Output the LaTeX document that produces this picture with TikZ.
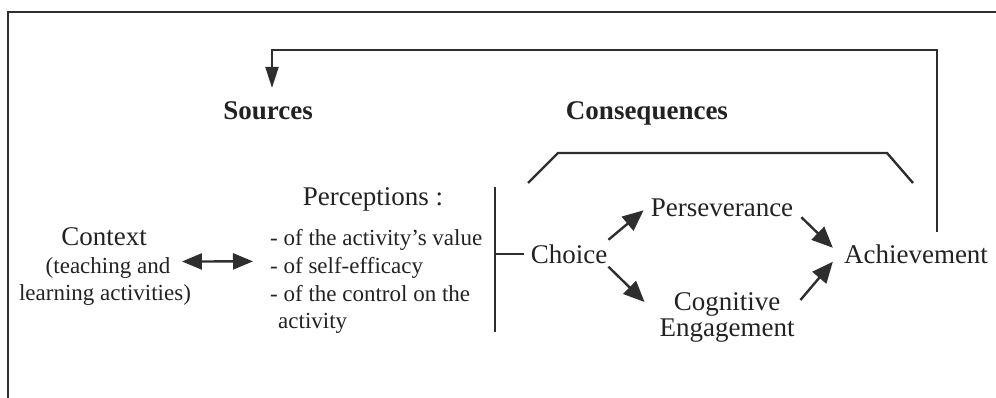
\documentclass[tikz,border=0pt]{standalone}
\usepackage{fontspec}
\setmainfont{Liberation Serif}
\usetikzlibrary{arrows.meta,calc}
\definecolor{ink}{HTML}{222222}
\definecolor{linec}{HTML}{2E2E2E}
\tikzset{
  txt/.style={inner sep=0pt, anchor=base, text=ink, font=\fontsize{27}{32}\selectfont},
  head/.style={txt, font=\fontsize{27}{32}\selectfont\bfseries},
  small/.style={inner sep=0pt, text=ink, font=\fontsize{23}{27}\selectfont},
  smallc/.style={small, anchor=base},
  smalll/.style={small, anchor=base west},
  ln/.style={draw=linec, line width=2.4pt},
  arr/.style={ln, -{Triangle[length=21pt,width=18pt]}},
  dbl/.style={ln, {Triangle[length=20pt,width=16pt]}-{Triangle[length=20pt,width=16pt]}},
  fbarr/.style={draw=linec, line width=2.2pt, -{Triangle[length=21pt,width=13pt]}}
}
\begin{document}
\begin{tikzpicture}[x=1pt,y=1pt]
\useasboundingbox (0,0) rectangle (996,-398);
% frame
\draw[draw=linec, line width=2.2pt] (8,-402) -- (8,-12) -- (1002,-12);
% headings
\node[head] (src) at (268,-120) {Sources};
\node[head] (cons) at (647,-120) {Consequences};
% context
\node[txt] (ctx) at (104,-245) {Context};
\node[smallc] (ctx1) at (108,-273) {(teaching and};
\node[smallc] (ctx2) at (105,-300) {learning activities)};
% perceptions
\node[txt] (perc) at (373,-206) {Perceptions :};
\node[smalll] (p1) at (270,-246) {- of the activity's value};
\node[smalll] (p2) at (270,-273) {- of self-efficacy};
\node[smalll] (p3) at (270,-301) {- of the control on the};
\node[smalll] (p4) at (278,-328) {activity};
% consequences
\node[txt] (choice) at (569,-263) {Choice};
\node[txt] (pers) at (722,-217) {Perseverance};
\node[txt] (cog1) at (727,-310) {Cognitive};
\node[txt] (cog2) at (727,-336) {Engagement};
\node[txt] (ach) at (916,-263) {Achievement};
% bar and bracket
\coordinate (bartop) at (495,-187);
\coordinate (barbot) at (495,-332);
\draw[ln] (bartop) -- (barbot);
\draw[ln] ([xshift=-7pt]choice.west) -- (choice.west -| bartop);
\coordinate (br1) at (528,-183);
\coordinate (br2) at (558,-153);
\coordinate (br3) at (887,-153);
\coordinate (br4) at (913,-183);
\draw[ln, line join=miter] (br1) -- (br2) -- (br3) -- (br4);
% arrows
\draw[dbl] ([shift={(11.5pt,6pt)}]ctx1.east) -- ([shift={(-17pt,6pt)}]p2.west);
\draw[arr] ([shift={(1pt,14pt)}]choice.east) -- ([shift={(-7pt,-2pt)}]pers.west);
\draw[arr] ([shift={(1pt,-13pt)}]choice.east) -- ([shift={(-29pt,2pt)}]cog1.west);
\draw[arr] ([shift={(8pt,-9pt)}]pers.east) -- ([shift={(-11pt,6pt)}]ach.west);
\draw[arr] ([shift={(20pt,4pt)}]cog1.east) -- ([shift={(-11pt,-8pt)}]ach.west);
% feedback
\coordinate (fb) at (272,-50);
\draw[fbarr] ([shift={(21pt,12pt)}]ach.north) |- (fb) -- ([shift={(4pt,14pt)}]src.north);
\end{tikzpicture}
\end{document}
